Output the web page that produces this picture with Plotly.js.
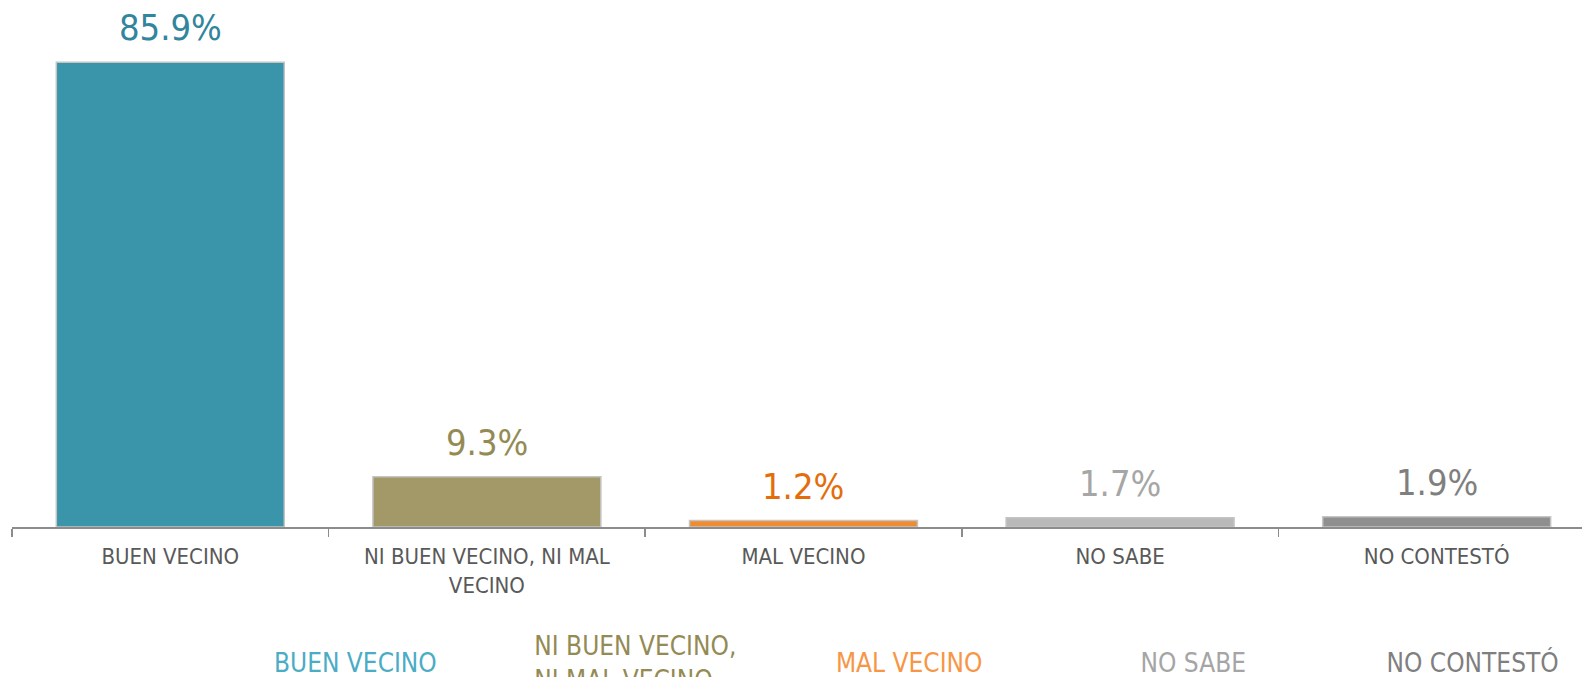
<!DOCTYPE html>
<html>
<head>
<meta charset="utf-8">
<script src="https://cdn.plot.ly/plotly-3.0.1.min.js"></script>
<style>
  html, body { margin: 0; padding: 0; background: #ffffff; overflow: hidden; height: 677px; }
  #chart { width: 1582px; height: 720px; }
</style>
</head>
<body>
<div id="chart"></div>
<script>
// ---- data ----
const categories = ["BUEN VECINO", "NI BUEN VECINO, NI MAL<br>VECINO", "MAL VECINO", "NO SABE", "NO CONTESTÓ"];
const legendNames = ["BUEN VECINO", "NI BUEN VECINO,<br>NI MAL VECINO", "MAL VECINO", "NO SABE", "NO CONTESTÓ"];
const values = [85.9, 9.3, 1.2, 1.7, 1.9];
const valueLabels = ["85.9%", "9.3%", "1.2%", "1.7%", "1.9%"];

// ---- styles ----
const barColors = ["#3B95AA", "#A39867", "#EF8C2F", "#B9B9B9", "#8F8F8F"];
const labelColors = ["#31859C", "#948A54", "#E46C0A", "#A6A6A6", "#7F7F7F"];
const legendColors = ["#4BACC6", "#948A54", "#F79646", "#A5A5A5", "#7F7F7F"];
const legendX = [0.1414, 0.3072, 0.4993, 0.6933, 0.8500];

const COND = "DejaVu Sans Condensed, DejaVu Sans, sans-serif";

const traces = [{
  type: "bar",
  x: categories,
  y: values,
  marker: { color: barColors, line: { color: "#C4C4C4", width: 1.5 } },
  showlegend: false,
  hoverinfo: "skip"
}];

// legend-only entries (one legend per entry to place them like the original)
legendNames.forEach((n, i) => {
  traces.push({
    type: "scatter",
    mode: "lines",
    x: [null], y: [null],
    line: { width: 0, color: legendColors[i] },
    name: '<span style="color:' + legendColors[i] + '">' + n + '</span>',
    showlegend: true,
    legend: i === 0 ? "legend" : "legend" + (i + 1)
  });
});

const annotations = values.map((v, i) => ({
  x: categories[i], y: v, xref: "x", yref: "y",
  text: valueLabels[i], showarrow: false,
  yanchor: "bottom", yshift: 12,
  font: { family: COND, size: 36, color: labelColors[i] }
}));

const layout = {
  width: 1582, height: 720,
  margin: { l: 12, r: 0, t: 0, b: 193 },
  paper_bgcolor: "#ffffff", plot_bgcolor: "rgba(0,0,0,0)",
  bargap: 0.28,
  font: { family: COND },
  xaxis: {
    type: "category",
    range: [-0.5, 4.459],
    showline: true, linecolor: "#8C8C8C", linewidth: 2,
    ticks: "outside", tickson: "boundaries", ticklen: 8, tickwidth: 1.5, tickcolor: "#8C8C8C",
    ticklabelstandoff: 9,
    tickfont: { family: COND, size: 22, color: "#595959" },
    showgrid: false, zeroline: false, fixedrange: true, automargin: false
  },
  yaxis: { visible: false, range: [0, 97.4], fixedrange: true },
  annotations: annotations,
  showlegend: true
};

const legendBase = {
  orientation: "h", xanchor: "left", yanchor: "middle", y: -0.2562,
  bgcolor: "rgba(0,0,0,0)", itemwidth: 30,
  font: { family: COND, size: 26, color: "#595959" }
};
legendX.forEach((x, i) => {
  const key = i === 0 ? "legend" : "legend" + (i + 1);
  layout[key] = Object.assign({}, legendBase, { x: x });
});

Plotly.newPlot("chart", traces, layout, { displayModeBar: false, staticPlot: true });
</script>
</body>
</html>
